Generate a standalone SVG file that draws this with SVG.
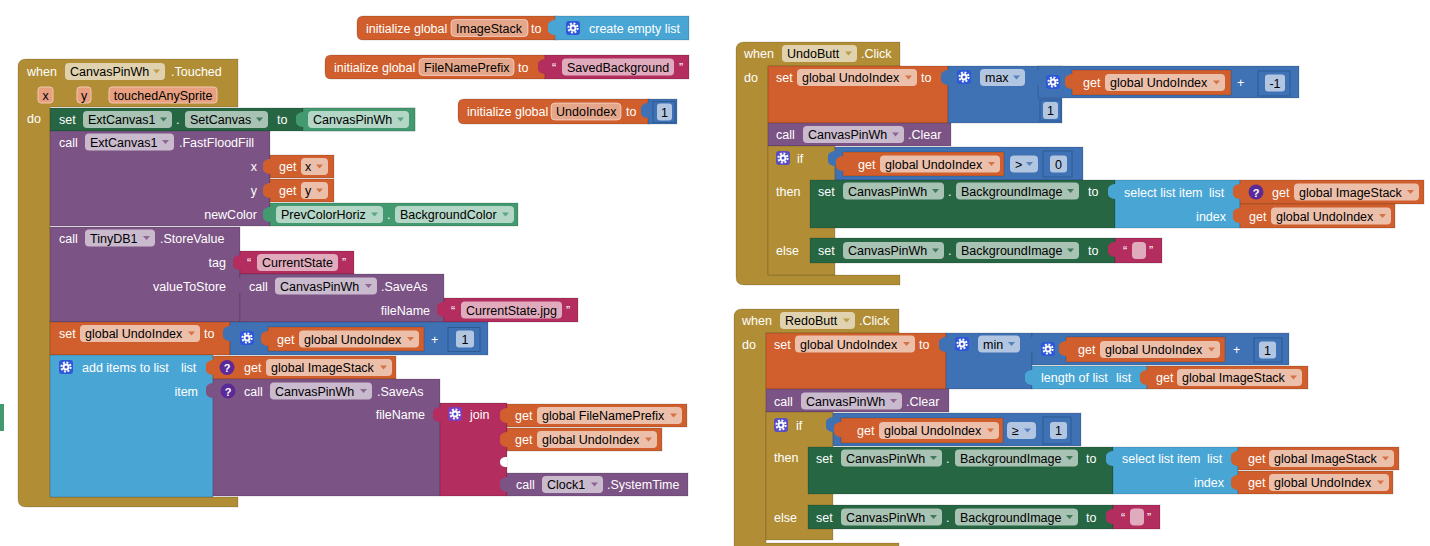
<svg xmlns="http://www.w3.org/2000/svg" xmlns:xlink="http://www.w3.org/1999/xlink" width="1430" height="546" viewBox="0 0 1430 546">
<style>
text{font-family:"Liberation Sans",Arial,sans-serif;font-size:12.5px;fill:#fff}
.k{fill:#000}
.r{text-anchor:end}
.m{text-anchor:middle}
.p{fill:#fff;fill-opacity:.6}
.pe{fill:#fff;fill-opacity:.45;stroke:#fff;stroke-opacity:.5}
.pa{fill:#E8A080;stroke:#F3C6B0}
.ev{fill:#B18E35}
.pu{fill:#7C5385}
.dg{fill:#266643}
.lg{fill:#439970}
.or{fill:#D05F2D}
.bl{fill:#3F71B5}
.lb{fill:#49A6D4}
.mg{fill:#B32D5E}
.b{stroke:#000;stroke-opacity:.15;stroke-width:1}
.sl{fill:none;stroke:#2B5A95;stroke-width:1}
.da{opacity:.8}
.q{fill:#5B2A98}
.gb{fill:#2F57DA}
.gp{fill:#5A4FC2}
.gj{fill:#7B3FC0}
</style>
<defs>
<path id="dd" d="M0,0h7l-3.5,4z"/>
<path id="tab" d="M1,0 C-3,0 -7,2 -7,5 V10 C-7,13 -3,15 1,15 Z"/>
<g id="gear"><rect width="14" height="14" rx="3"/><circle cx="7" cy="7" r="4.6" fill="none" stroke="#fff" stroke-width="2" stroke-dasharray="1.9 1.7"/><circle cx="7" cy="7" r="3.4" fill="#fff"/><circle cx="7" cy="7" r="1.5" fill="#3F4FC8"/></g>
</defs>

<g id="connectors"></g>

<!-- global inits -->
<g id="initImageStack">
<path class="or b" d="M363,16 H557 V40 H363 Q357,40 357,34 V22 Q357,16 363,16 Z"/>
<text x="366" y="32.5">initialize global</text>
<rect class="pe" x="451" y="19.5" width="77" height="17" rx="4"/><text class="k" x="456" y="32.5">ImageStack</text>
<text x="531" y="32.5">to</text>
<rect class="lb b" x="555" y="16" width="134" height="24"/><use href="#tab" x="555" y="20" class="lb"/>
<use href="#gear" x="566" y="21" class="gb"/>
<text x="589" y="32.5">create empty list</text>
</g>
<g id="initFileNamePrefix">
<path class="or b" d="M331,55 H545 V79 H331 Q325,79 325,73 V61 Q325,55 331,55 Z"/>
<text x="334" y="71.5">initialize global</text>
<rect class="pe" x="419" y="58.5" width="95" height="17" rx="4"/><text class="k" x="424" y="71.5">FileNamePrefix</text>
<text x="518" y="71.5">to</text>
<rect class="mg b" x="545" y="55" width="144" height="24"/><use href="#tab" x="545" y="59" class="mg"/>
<text x="552" y="71.5">“</text>
<rect class="p" x="562" y="58.5" width="112" height="17" rx="4"/><text class="k" x="567" y="71.5">SavedBackground</text>
<text x="679" y="71.5">”</text>
</g>
<g id="initUndoIndex">
<path class="or b" d="M464,99 H650 V124 H464 Q458,124 458,118 V105 Q458,99 464,99 Z"/>
<text x="467" y="116">initialize global</text>
<rect class="pe" x="551" y="103" width="70" height="17" rx="4"/><text class="k" x="556" y="116">UndoIndex</text>
<text x="626" y="116">to</text>
<rect class="bl b" x="648" y="99" width="29" height="25"/><use href="#tab" x="648" y="103" class="bl"/>
<rect class="sl" x="653" y="101.5" width="22" height="21"/>
<rect class="p" x="657" y="103.5" width="15" height="17" rx="3"/><text class="k m" x="664.5" y="116.5">1</text>
</g>

<!-- CanvasPinWh.Touched -->
<g id="evTouched">
<path class="ev b" d="M18,67 Q18,59 26,59 H238 V107 H50 V497 H238 V507 H26 Q18,507 18,499 Z"/>
<text x="27" y="76">when</text>
<rect class="p" x="65" y="63" width="100" height="17" rx="4"/><text class="k" x="70" y="76">CanvasPinWh</text>
<use href="#dd" x="153" y="69.5" class="ev da"/>
<text x="171" y="76">.Touched</text>
<rect class="pa" x="38" y="87" width="15" height="16" rx="3"/><text class="k m" x="45.5" y="99.5">x</text>
<rect class="pa" x="77" y="87" width="14" height="16" rx="3"/><text class="k m" x="84" y="99.5">y</text>
<rect class="pa" x="109" y="87" width="108" height="16" rx="3"/><text class="k m" x="163" y="99.5">touchedAnySprite</text>
<text x="27" y="122.5">do</text>
</g>
<g id="setExtCanvas">
<rect class="dg b" x="50" y="108" width="365" height="23"/>
<text x="59" y="124">set</text>
<rect class="p" x="83" y="111" width="89" height="17" rx="4"/><text class="k" x="88" y="124">ExtCanvas1</text><use href="#dd" x="160" y="117.5" class="dg da"/>
<text x="176" y="124">.</text>
<rect class="p" x="185" y="111" width="83" height="17" rx="4"/><text class="k" x="190" y="124">SetCanvas</text><use href="#dd" x="256" y="117.5" class="dg da"/>
<text x="277" y="124">to</text>
</g>
<g id="getCanvasPinWh1">
<rect class="lg b" x="303" y="108" width="112" height="23"/><use href="#tab" x="303" y="112" class="lg"/>
<rect class="p" x="308" y="111" width="101" height="17" rx="4"/><text class="k" x="313" y="124">CanvasPinWh</text><use href="#dd" x="397" y="117.5" class="lg da"/>
</g>
<g id="callFastFloodFill">
<rect class="pu b" x="50" y="131" width="220" height="95"/>
<text x="59" y="146.5">call</text>
<rect class="p" x="85" y="133.5" width="89" height="17" rx="4"/><text class="k" x="90" y="146.5">ExtCanvas1</text><use href="#dd" x="162" y="140" class="pu da"/>
<text x="179" y="146.5">.FastFloodFill</text>
<text class="r" x="257" y="171">x</text>
<text class="r" x="257" y="195">y</text>
<text class="r" x="257" y="219">newColor</text>
</g>
<g id="getX">
<rect class="or b" x="270" y="155" width="64" height="23"/><use href="#tab" x="270" y="159" class="or"/>
<text x="279" y="171">get</text>
<rect class="p" x="301" y="158" width="27" height="17" rx="4"/><text class="k" x="305" y="171">x</text><use href="#dd" x="316" y="164.5" class="or da"/>
</g>
<g id="getY">
<rect class="or b" x="270" y="179" width="64" height="23"/><use href="#tab" x="270" y="183" class="or"/>
<text x="279" y="195">get</text>
<rect class="p" x="301" y="182" width="27" height="17" rx="4"/><text class="k" x="305" y="195">y</text><use href="#dd" x="316" y="188.5" class="or da"/>
</g>
<g id="prevColor">
<rect class="lg b" x="270" y="203" width="248" height="23"/><use href="#tab" x="270" y="207" class="lg"/>
<rect class="p" x="276" y="206" width="107" height="17" rx="4"/><text class="k" x="281" y="219">PrevColorHoriz</text><use href="#dd" x="371" y="212.5" class="lg da"/>
<text x="387" y="219">.</text>
<rect class="p" x="395" y="206" width="119" height="17" rx="4"/><text class="k" x="400" y="219">BackgroundColor</text><use href="#dd" x="502" y="212.5" class="lg da"/>
</g>
<g id="callStoreValue">
<rect class="pu b" x="50" y="227" width="190" height="95"/>
<text x="59" y="242.5">call</text>
<rect class="p" x="85" y="229.5" width="70" height="17" rx="4"/><text class="k" x="90" y="242.5">TinyDB1</text><use href="#dd" x="143" y="236" class="pu da"/>
<text x="160" y="242.5">.StoreValue</text>
<text class="r" x="226" y="266.5">tag</text>
<text class="r" x="226" y="290.5">valueToStore</text>
</g>
<g id="txtCurrentState">
<rect class="mg b" x="240" y="251" width="114" height="23"/><use href="#tab" x="240" y="255" class="mg"/>
<text x="247" y="267">“</text>
<rect class="p" x="257" y="254" width="81" height="17" rx="4"/><text class="k" x="262" y="267">CurrentState</text>
<text x="342" y="267">”</text>
</g>
<g id="callSaveAs1">
<rect class="pu b" x="240" y="274" width="204" height="48"/><use href="#tab" x="240" y="278" class="pu"/>
<text x="249" y="290.5">call</text>
<rect class="p" x="275" y="277.5" width="102" height="17" rx="4"/><text class="k" x="280" y="290.5">CanvasPinWh</text><use href="#dd" x="365" y="284" class="pu da"/>
<text x="381" y="290.5">.SaveAs</text>
<text class="r" x="430" y="314.5">fileName</text>
</g>
<g id="txtCurrentStateJpg">
<rect class="mg b" x="444" y="298" width="134" height="24"/><use href="#tab" x="444" y="302" class="mg"/>
<text x="451" y="314.5">“</text>
<rect class="p" x="461" y="301.5" width="101" height="17" rx="4"/><text class="k" x="466" y="314.5">CurrentState.jpg</text>
<text x="566" y="314.5">”</text>
</g>
<g id="setUndoIndex1">
<rect class="or b" x="50" y="322" width="180" height="33"/>
<text x="59" y="338">set</text>
<rect class="p" x="80" y="325" width="120" height="17" rx="4"/><text class="k" x="85" y="338">global UndoIndex</text><use href="#dd" x="188" y="331.5" class="or da"/>
<text x="204" y="338">to</text>
</g>
<g id="addPlus1">
<rect class="bl b" x="230" y="322" width="258" height="33"/><use href="#tab" x="230" y="326" class="bl"/>
<use href="#gear" x="240" y="331" class="gb"/>
<rect class="or b" x="268" y="327" width="156" height="24"/><use href="#tab" x="268" y="331" class="or"/>
<text x="277" y="343.5">get</text>
<rect class="p" x="299" y="330.5" width="120" height="17" rx="4"/><text class="k" x="304" y="343.5">global UndoIndex</text><use href="#dd" x="407" y="337" class="or da"/>
<text x="431" y="343.5">+</text>
<rect class="sl" x="448" y="327.5" width="32" height="24"/>
<rect class="p" x="456" y="330.5" width="18" height="17" rx="3"/><text class="k m" x="465" y="343.5">1</text>
</g>
<g id="addItems">
<rect class="lb b" x="50" y="355" width="163" height="142"/>
<use href="#gear" x="59" y="360" class="gb"/>
<text x="82" y="371.5">add items to list</text>
<text x="181" y="371.5">list</text>
<text class="r" x="198" y="395.5">item</text>
</g>
<g id="getImageStack1">
<rect class="or b" x="213" y="356" width="183" height="23"/><use href="#tab" x="213" y="360" class="or"/>
<circle class="q" cx="227" cy="367.5" r="7.5"/><text class="m" x="227" y="372" style="font-size:11px;font-weight:bold">?</text>
<text x="244" y="372">get</text>
<rect class="p" x="266" y="359" width="126" height="17" rx="4"/><text class="k" x="271" y="372">global ImageStack</text><use href="#dd" x="380" y="365.5" class="or da"/>
</g>
<g id="callSaveAs2">
<rect class="pu b" x="213" y="379" width="227" height="117"/><use href="#tab" x="213" y="383" class="pu"/>
<circle class="q" cx="228" cy="391" r="7.5"/><text class="m" x="228" y="395.5" style="font-size:11px;font-weight:bold">?</text>
<text x="244" y="395.5">call</text>
<rect class="p" x="270" y="382.5" width="102" height="17" rx="4"/><text class="k" x="275" y="395.5">CanvasPinWh</text><use href="#dd" x="360" y="389" class="pu da"/>
<text x="377" y="395.5">.SaveAs</text>
<text class="r" x="425" y="418.5">fileName</text>
</g>
<g id="join">
<rect class="mg b" x="440" y="403" width="67" height="93"/><use href="#tab" x="440" y="407" class="mg"/>
<use href="#gear" x="448" y="407" class="gj"/>
<text x="470" y="418.5">join</text>
<path d="M507,457 C502,457 500,459 500,462 C500,465 502,467 507,467 Z" fill="#fff"/>
</g>
<g id="getFileNamePrefix">
<rect class="or b" x="507" y="404" width="180" height="23"/><use href="#tab" x="507" y="408" class="or"/>
<text x="515" y="420">get</text>
<rect class="p" x="537" y="407" width="145" height="17" rx="4"/><text class="k" x="542" y="420">global FileNamePrefix</text><use href="#dd" x="670" y="413.5" class="or da"/>
</g>
<g id="getUndoIndex2">
<rect class="or b" x="507" y="428" width="155" height="23"/><use href="#tab" x="507" y="432" class="or"/>
<text x="515" y="444">get</text>
<rect class="p" x="537" y="431" width="120" height="17" rx="4"/><text class="k" x="542" y="444">global UndoIndex</text><use href="#dd" x="645" y="437.5" class="or da"/>
</g>
<g id="callSystemTime">
<rect class="pu b" x="507" y="473" width="181" height="23"/><use href="#tab" x="507" y="477" class="pu"/>
<text x="516" y="489">call</text>
<rect class="p" x="542" y="476" width="61" height="17" rx="4"/><text class="k" x="547" y="489">Clock1</text><use href="#dd" x="591" y="482.5" class="pu da"/>
<text x="607" y="489">.SystemTime</text>
</g>
<rect class="lg" x="0" y="404" width="4" height="27"/>

<!-- UndoButt.Click -->
<g id="evUndo">
<path class="ev b" d="M736,50 Q736,42 744,42 H900 V66 H768 V275 H900 V285 H744 Q736,285 736,277 Z"/>
<text x="744" y="58">when</text>
<rect class="p" x="782" y="45" width="75" height="17" rx="4"/><text class="k" x="787" y="58">UndoButt</text><use href="#dd" x="845" y="51.5" class="ev da"/>
<text x="861" y="58">.Click</text>
<text x="744" y="81.5">do</text>
</g>
<g id="setUndoIndexU">
<rect class="or b" x="768" y="66" width="180" height="57"/>
<text x="776" y="82">set</text>
<rect class="p" x="797" y="69" width="120" height="17" rx="4"/><text class="k" x="802" y="82">global UndoIndex</text><use href="#dd" x="905" y="75.5" class="or da"/>
<text x="921" y="82">to</text>
</g>
<g id="maxU">
<rect class="bl b" x="948" y="66" width="114" height="57"/><use href="#tab" x="948" y="70" class="bl"/>
<use href="#gear" x="957" y="70" class="gb"/>
<rect class="p" x="980" y="69" width="45" height="17" rx="4"/><text class="k" x="985" y="82">max</text><use href="#dd" x="1013" y="75.5" class="bl da"/>
<rect class="sl" x="1040" y="100" width="21" height="21"/>
<rect class="p" x="1043" y="102" width="15" height="17" rx="3"/><text class="k m" x="1050.5" y="115">1</text>
</g>
<g id="plusU">
<rect class="bl b" x="1038" y="66" width="261" height="32"/><use href="#tab" x="1038" y="70" class="bl"/>
<use href="#gear" x="1046" y="75" class="gb"/>
<rect class="or b" x="1072" y="70" width="159" height="25"/><use href="#tab" x="1072" y="74" class="or"/>
<text x="1083" y="87">get</text>
<rect class="p" x="1105" y="74" width="120" height="17" rx="4"/><text class="k" x="1110" y="87">global UndoIndex</text><use href="#dd" x="1213" y="80.5" class="or da"/>
<text x="1237" y="87">+</text>
<rect class="sl" x="1258" y="71" width="32" height="25"/>
<rect class="p" x="1265" y="74.5" width="20" height="17" rx="3"/><text class="k m" x="1275" y="87.5">-1</text>
</g>
<g id="clearU">
<rect class="pu b" x="768" y="123" width="183" height="23"/>
<text x="776" y="139">call</text>
<rect class="p" x="803" y="126" width="101" height="17" rx="4"/><text class="k" x="808" y="139">CanvasPinWh</text><use href="#dd" x="892" y="132.5" class="pu da"/>
<text x="908" y="139">.Clear</text>
</g>
<g id="ifU">
<rect class="ev b" x="768" y="146" width="67" height="129"/>
<use href="#gear" x="776" y="151" class="gp"/>
<text x="797" y="162.5">if</text>
<text x="776" y="195.5">then</text>
<text x="776" y="254.5">else</text>
</g>
<g id="cmpU">
<rect class="bl b" x="835" y="147" width="248" height="33"/><use href="#tab" x="835" y="151" class="bl"/>
<rect class="or b" x="843" y="152" width="161" height="24"/><use href="#tab" x="843" y="156" class="or"/>
<text x="858" y="168.5">get</text>
<rect class="p" x="880" y="155.5" width="120" height="17" rx="4"/><text class="k" x="885" y="168.5">global UndoIndex</text><use href="#dd" x="988" y="162" class="or da"/>
<rect class="p" x="1010" y="155.5" width="28" height="17" rx="4"/><text class="k" x="1015" y="168.5">&gt;</text><use href="#dd" x="1026" y="162" class="bl da"/>
<rect class="sl" x="1043" y="151" width="29" height="26"/>
<rect class="p" x="1050" y="155.5" width="17" height="17" rx="3"/><text class="k m" x="1058.5" y="168.5">0</text>
</g>
<g id="setBgU1">
<rect class="dg b" x="810" y="180" width="305" height="48"/>
<text x="818" y="195.5">set</text>
<rect class="p" x="843" y="182.5" width="101" height="17" rx="4"/><text class="k" x="848" y="195.5">CanvasPinWh</text><use href="#dd" x="932" y="189" class="dg da"/>
<text x="948" y="195.5">.</text>
<rect class="p" x="956" y="182.5" width="123" height="17" rx="4"/><text class="k" x="961" y="195.5">BackgroundImage</text><use href="#dd" x="1067" y="189" class="dg da"/>
<text x="1088" y="195.5">to</text>
</g>
<g id="selectU">
<rect class="lb b" x="1115" y="180" width="125" height="48"/><use href="#tab" x="1115" y="184" class="lb"/>
<text x="1124" y="196.5">select list item</text>
<text x="1209" y="196.5">list</text>
<text class="r" x="1226" y="220.5">index</text>
</g>
<g id="getImageStackU">
<rect class="or b" x="1240" y="180" width="184" height="24"/><use href="#tab" x="1240" y="184" class="or"/>
<circle class="q" cx="1256" cy="192" r="7.5"/><text class="m" x="1256" y="196.5" style="font-size:11px;font-weight:bold">?</text>
<text x="1272" y="196.5">get</text>
<rect class="p" x="1294" y="183.5" width="125" height="17" rx="4"/><text class="k" x="1299" y="196.5">global ImageStack</text><use href="#dd" x="1407" y="190" class="or da"/>
</g>
<g id="getUndoIndexU">
<rect class="or b" x="1240" y="204" width="155" height="24"/><use href="#tab" x="1240" y="208" class="or"/>
<text x="1249" y="220.5">get</text>
<rect class="p" x="1271" y="207.5" width="120" height="17" rx="4"/><text class="k" x="1276" y="220.5">global UndoIndex</text><use href="#dd" x="1379" y="214" class="or da"/>
</g>
<g id="setBgU2">
<rect class="dg b" x="810" y="238" width="305" height="25"/>
<text x="818" y="255">set</text>
<rect class="p" x="843" y="242" width="101" height="17" rx="4"/><text class="k" x="848" y="255">CanvasPinWh</text><use href="#dd" x="932" y="248.5" class="dg da"/>
<text x="948" y="255">.</text>
<rect class="p" x="956" y="242" width="123" height="17" rx="4"/><text class="k" x="961" y="255">BackgroundImage</text><use href="#dd" x="1067" y="248.5" class="dg da"/>
<text x="1088" y="255">to</text>
</g>
<g id="emptyTxtU">
<rect class="mg b" x="1115" y="238" width="47" height="25"/><use href="#tab" x="1115" y="242" class="mg"/>
<text x="1123" y="255">“</text>
<rect class="p" x="1132" y="242" width="14" height="17" rx="4"/>
<text x="1149" y="255">”</text>
</g>

<!-- RedoButt.Click -->
<g id="evRedo">
<path class="ev b" d="M734,317 Q734,309 742,309 H899 V333 H766 V543 H899 V560 H734 Z"/>
<text x="742" y="325">when</text>
<rect class="p" x="780" y="312" width="75" height="17" rx="4"/><text class="k" x="785" y="325">RedoButt</text><use href="#dd" x="843" y="318.5" class="ev da"/>
<text x="859" y="325">.Click</text>
<text x="742" y="348.5">do</text>
</g>
<g id="setUndoIndexR">
<rect class="or b" x="766" y="333" width="180" height="56"/>
<text x="774" y="348.5">set</text>
<rect class="p" x="795" y="335.5" width="120" height="17" rx="4"/><text class="k" x="800" y="348.5">global UndoIndex</text><use href="#dd" x="903" y="342" class="or da"/>
<text x="919" y="348.5">to</text>
</g>
<g id="minR">
<rect class="bl b" x="946" y="333" width="86" height="56"/><use href="#tab" x="946" y="337" class="bl"/>
<use href="#gear" x="955" y="337" class="gb"/>
<rect class="p" x="978" y="335.5" width="42" height="17" rx="4"/><text class="k" x="983" y="348.5">min</text><use href="#dd" x="1008" y="342" class="bl da"/>
</g>
<g id="plusR">
<rect class="bl b" x="1032" y="333" width="257" height="32"/><use href="#tab" x="1032" y="337" class="bl"/>
<use href="#gear" x="1041" y="342" class="gb"/>
<rect class="or b" x="1066" y="337" width="159" height="25"/><use href="#tab" x="1066" y="341" class="or"/>
<text x="1078" y="354">get</text>
<rect class="p" x="1100" y="341" width="120" height="17" rx="4"/><text class="k" x="1105" y="354">global UndoIndex</text><use href="#dd" x="1208" y="347.5" class="or da"/>
<text x="1233" y="354">+</text>
<rect class="sl" x="1254" y="338" width="28" height="24"/>
<rect class="p" x="1259" y="341.5" width="17" height="17" rx="3"/><text class="k m" x="1267.5" y="354.5">1</text>
</g>
<g id="lengthR">
<rect class="lb b" x="1032" y="366" width="115" height="23"/><use href="#tab" x="1032" y="370" class="lb"/>
<text x="1041" y="382">length of list</text>
<text x="1116" y="382">list</text>
</g>
<g id="getImageStackR1">
<rect class="or b" x="1147" y="366" width="161" height="23"/><use href="#tab" x="1147" y="370" class="or"/>
<text x="1156" y="382">get</text>
<rect class="p" x="1177" y="369" width="125" height="17" rx="4"/><text class="k" x="1182" y="382">global ImageStack</text><use href="#dd" x="1290" y="375.5" class="or da"/>
</g>
<g id="clearR">
<rect class="pu b" x="766" y="389" width="183" height="23"/>
<text x="774" y="405.5">call</text>
<rect class="p" x="801" y="392.5" width="101" height="17" rx="4"/><text class="k" x="806" y="405.5">CanvasPinWh</text><use href="#dd" x="890" y="399" class="pu da"/>
<text x="906" y="405.5">.Clear</text>
</g>
<g id="ifR">
<rect class="ev b" x="766" y="412" width="67" height="128"/>
<use href="#gear" x="774" y="418" class="gp"/>
<text x="796" y="429.5">if</text>
<text x="774" y="462">then</text>
<text x="774" y="521.5">else</text>
</g>
<g id="cmpR">
<rect class="bl b" x="833" y="413" width="248" height="33"/><use href="#tab" x="833" y="417" class="bl"/>
<rect class="or b" x="841" y="418" width="162" height="25"/><use href="#tab" x="841" y="422" class="or"/>
<text x="857" y="435">get</text>
<rect class="p" x="879" y="422" width="120" height="17" rx="4"/><text class="k" x="884" y="435">global UndoIndex</text><use href="#dd" x="987" y="428.5" class="or da"/>
<rect class="p" x="1007" y="422" width="29" height="17" rx="4"/><text class="k" x="1012" y="435">≥</text><use href="#dd" x="1024" y="428.5" class="bl da"/>
<rect class="sl" x="1043" y="417" width="28" height="27"/>
<rect class="p" x="1050" y="422" width="17" height="17" rx="3"/><text class="k m" x="1058.5" y="435">1</text>
</g>
<g id="setBgR1">
<rect class="dg b" x="808" y="447" width="305" height="47"/>
<text x="816" y="462.5">set</text>
<rect class="p" x="841" y="449.5" width="101" height="17" rx="4"/><text class="k" x="846" y="462.5">CanvasPinWh</text><use href="#dd" x="930" y="456" class="dg da"/>
<text x="946" y="462.5">.</text>
<rect class="p" x="955" y="449.5" width="123" height="17" rx="4"/><text class="k" x="960" y="462.5">BackgroundImage</text><use href="#dd" x="1066" y="456" class="dg da"/>
<text x="1086" y="462.5">to</text>
</g>
<g id="selectR">
<rect class="lb b" x="1113" y="447" width="125" height="47"/><use href="#tab" x="1113" y="451" class="lb"/>
<text x="1122" y="463">select list item</text>
<text x="1207" y="463">list</text>
<text class="r" x="1224" y="487">index</text>
</g>
<g id="getImageStackR2">
<rect class="or b" x="1238" y="447" width="161" height="23"/><use href="#tab" x="1238" y="451" class="or"/>
<text x="1248" y="463">get</text>
<rect class="p" x="1269" y="450" width="125" height="17" rx="4"/><text class="k" x="1274" y="463">global ImageStack</text><use href="#dd" x="1382" y="456.5" class="or da"/>
</g>
<g id="getUndoIndexR">
<rect class="or b" x="1238" y="471" width="155" height="23"/><use href="#tab" x="1238" y="475" class="or"/>
<text x="1248" y="487">get</text>
<rect class="p" x="1269" y="474" width="120" height="17" rx="4"/><text class="k" x="1274" y="487">global UndoIndex</text><use href="#dd" x="1377" y="480.5" class="or da"/>
</g>
<g id="setBgR2">
<rect class="dg b" x="808" y="505" width="305" height="24"/>
<text x="816" y="521.5">set</text>
<rect class="p" x="841" y="508.5" width="101" height="17" rx="4"/><text class="k" x="846" y="521.5">CanvasPinWh</text><use href="#dd" x="930" y="515" class="dg da"/>
<text x="946" y="521.5">.</text>
<rect class="p" x="955" y="508.5" width="123" height="17" rx="4"/><text class="k" x="960" y="521.5">BackgroundImage</text><use href="#dd" x="1066" y="515" class="dg da"/>
<text x="1086" y="521.5">to</text>
</g>
<g id="emptyTxtR">
<rect class="mg b" x="1113" y="505" width="47" height="24"/><use href="#tab" x="1113" y="509" class="mg"/>
<text x="1121" y="521.5">“</text>
<rect class="p" x="1130" y="508.5" width="14" height="17" rx="4"/>
<text x="1147" y="521.5">”</text>
</g>
</svg>
